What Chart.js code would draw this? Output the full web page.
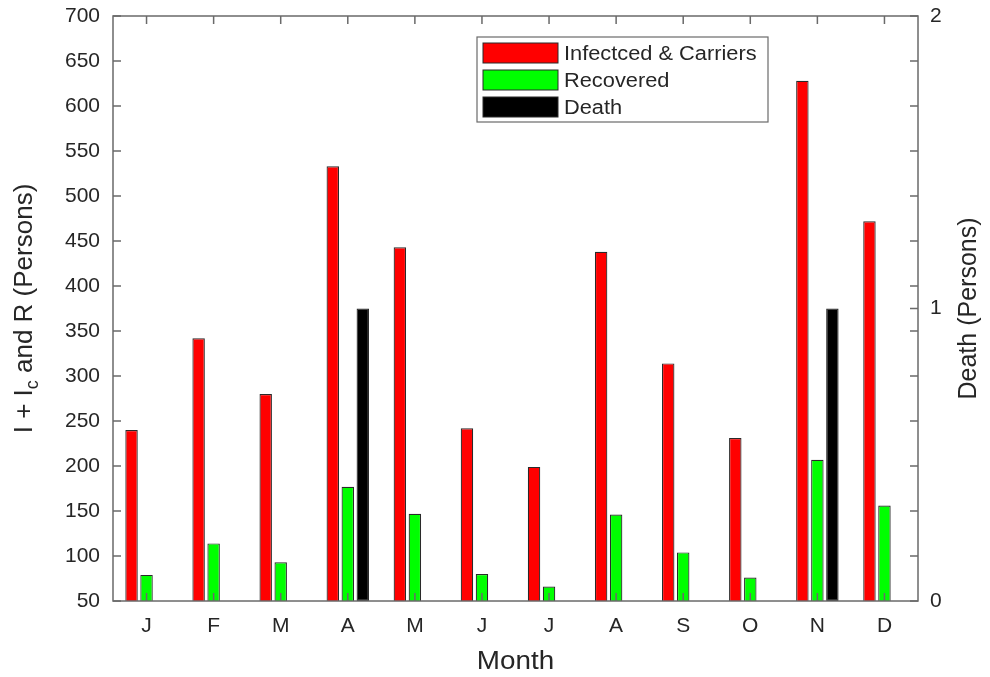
<!DOCTYPE html>
<html>
<head>
<meta charset="utf-8">
<title>Monthly cases</title>
<script src="https://cdn.jsdelivr.net/npm/chart.js@4/dist/chart.umd.min.js"></script>
<style>
  html, body { margin: 0; padding: 0; background: #ffffff; }
  #wrap { width: 990px; height: 677px; }
</style>
</head>
<body>
<div id="wrap"><canvas id="chart" width="990" height="677"></canvas></div>
<script>
// Month initials along the x axis
const months = ['J', 'F', 'M', 'A', 'M', 'J', 'J', 'A', 'S', 'O', 'N', 'D'];
// Infected and carriers (I + Ic), persons
const infected = [240, 342, 280, 533, 443, 242, 199, 438, 314, 231, 628, 472];
// Recovered (R), persons
const recovered = [79, 114, 93, 177, 147, 80, 66, 146, 104, 76, 207, 156];
// Deaths, persons (right axis)
const deaths = [0, 0, 0, 1, 0, 0, 0, 0, 0, 0, 1, 0];
// Axis ranges and tick steps
const leftRange = [50, 700];
const leftStep = 50;
const rightRange = [0, 2];
const rightStep = 1;

const FONT = "'Liberation Sans', Arial, Helvetica, sans-serif";
const TEXT = '#262626';
const AXIS = '#6a6a6a';
const TICK_LEN = 8;
const WIDEN = 1.07; // slightly wide lettering for the hand-drawn texts

// Box around the plot plus inward tick marks on all four sides
const framePlugin = {
  id: 'frame',
  afterDatasetsDraw(chart) {
    const { ctx, chartArea: a, scales } = chart;
    ctx.save();
    ctx.strokeStyle = AXIS;
    ctx.lineWidth = 1.5;
    ctx.beginPath();
    scales.y.ticks.forEach(t => {
      const py = scales.y.getPixelForValue(t.value);
      ctx.moveTo(a.left, py); ctx.lineTo(a.left + TICK_LEN, py);
      ctx.moveTo(a.right, py); ctx.lineTo(a.right - TICK_LEN, py);
    });
    scales.y2.ticks.forEach(t => {
      const py = scales.y2.getPixelForValue(t.value);
      ctx.moveTo(a.right, py); ctx.lineTo(a.right - TICK_LEN, py);
    });
    scales.x.ticks.forEach((t, i) => {
      const px = scales.x.getPixelForTick(i);
      ctx.moveTo(px, a.top); ctx.lineTo(px, a.top + TICK_LEN);
      ctx.moveTo(px, a.bottom); ctx.lineTo(px, a.bottom - TICK_LEN);
    });
    ctx.stroke();
    ctx.strokeRect(a.left, a.top, a.right - a.left, a.bottom - a.top);
    ctx.restore();
  }
};

// Axis titles, including the subscript in the left one
const titlePlugin = {
  id: 'titles',
  afterDraw(chart) {
    const { ctx, chartArea: a } = chart;
    ctx.save();
    ctx.fillStyle = TEXT;

    // x title
    ctx.font = `26px ${FONT}`;
    ctx.textAlign = 'center';
    ctx.textBaseline = 'alphabetic';
    ctx.translate((a.left + a.right) / 2, 669);
    ctx.scale(WIDEN, 1);
    ctx.fillText('Month', 0, 0);
    ctx.setTransform(1, 0, 0, 1, 0, 0);

    // left y title: I + I_c and R (Persons)
    const big = `26px ${FONT}`;
    const small = `18px ${FONT}`;
    const p1 = 'I + I', p2 = 'c', p3 = ' and R (Persons)';
    ctx.font = big; const w1 = ctx.measureText(p1).width; const w3 = ctx.measureText(p3).width;
    ctx.font = small; const w2 = ctx.measureText(p2).width;
    const total = w1 + w2 + w3;
    const cy = (a.top + a.bottom) / 2;
    ctx.translate(32, cy + total / 2);
    ctx.rotate(-Math.PI / 2);
    ctx.textAlign = 'left';
    ctx.font = big; ctx.fillText(p1, 0, 0);
    ctx.font = small; ctx.fillText(p2, w1, 6);
    ctx.font = big; ctx.fillText(p3, w1 + w2, 0);
    ctx.setTransform(1, 0, 0, 1, 0, 0);

    // right y title
    ctx.font = `25px ${FONT}`;
    ctx.translate(969, cy);
    ctx.rotate(-Math.PI / 2);
    ctx.textAlign = 'center';
    ctx.textBaseline = 'middle';
    ctx.fillText('Death (Persons)', 0, 0);
    ctx.restore();
  }
};

// Boxed legend in the upper middle of the plot
const legendPlugin = {
  id: 'boxLegend',
  afterDraw(chart) {
    const { ctx } = chart;
    const x0 = 477, y0 = 37, w = 291, h = 85;
    ctx.save();
    ctx.fillStyle = '#ffffff';
    ctx.fillRect(x0, y0, w, h);
    ctx.strokeStyle = AXIS;
    ctx.lineWidth = 1.2;
    ctx.strokeRect(x0, y0, w, h);
    ctx.font = `20px ${FONT}`;
    ctx.textBaseline = 'middle';
    ctx.textAlign = 'left';
    chart.data.datasets.forEach((ds, i) => {
      const ry = y0 + 6 + i * 27;
      ctx.fillStyle = ds.backgroundColor;
      ctx.fillRect(x0 + 6, ry, 75, 20);
      ctx.strokeStyle = '#2a2a2a';
      ctx.lineWidth = 1;
      ctx.strokeRect(x0 + 6, ry, 75, 20);
      ctx.fillStyle = TEXT;
      ctx.save();
      ctx.translate(x0 + 87, ry + 11);
      ctx.scale(WIDEN + 0.02, 1);
      ctx.fillText(ds.label, 0, 0);
      ctx.restore();
    });
    ctx.restore();
  }
};

// Fixed axis boxes so the plot area sits at a set place on the canvas
function fixVertical(width) {
  return s => { s.width = width; s.paddingTop = 0; s.paddingBottom = 0; };
}

const barStyle = { borderColor: '#2a2a2a', borderWidth: 1.2, categoryPercentage: 0.671, barPercentage: 0.83, borderSkipped: false };

new Chart(document.getElementById('chart'), {
  type: 'bar',
  data: {
    labels: months,
    datasets: [
      Object.assign({ label: 'Infectced & Carriers', data: infected, backgroundColor: '#ff0000', yAxisID: 'y' }, barStyle),
      Object.assign({ label: 'Recovered', data: recovered, backgroundColor: '#00ff00', yAxisID: 'y' }, barStyle),
      Object.assign({ label: 'Death', data: deaths, backgroundColor: '#000000', yAxisID: 'y2' }, barStyle)
    ]
  },
  options: {
    responsive: false,
    animation: false,
    devicePixelRatio: 1,
    layout: { padding: { top: 16, left: 0, right: 0, bottom: 0 } },
    plugins: { legend: { display: false }, tooltip: { enabled: false } },
    scales: {
      x: {
        type: 'category',
        offset: true,
        grid: { display: false, drawTicks: false },
        border: { display: false },
        ticks: { color: TEXT, font: { family: FONT, size: 21 }, padding: 13, maxRotation: 0, autoSkip: false },
        afterFit(s) { s.height = 76; s.paddingLeft = 0; s.paddingRight = 0; }
      },
      y: {
        position: 'left',
        min: leftRange[0], max: leftRange[1],
        grid: { display: false, drawTicks: false },
        border: { display: false },
        ticks: { stepSize: leftStep, color: TEXT, font: { family: FONT, size: 21 }, padding: 13 },
        afterFit: fixVertical(113)
      },
      y2: {
        position: 'right',
        min: rightRange[0], max: rightRange[1],
        grid: { display: false, drawTicks: false },
        border: { display: false },
        ticks: { stepSize: rightStep, color: TEXT, font: { family: FONT, size: 21 }, padding: 12 },
        afterFit: fixVertical(72)
      }
    }
  },
  plugins: [framePlugin, titlePlugin, legendPlugin]
});
</script>
</body>
</html>
